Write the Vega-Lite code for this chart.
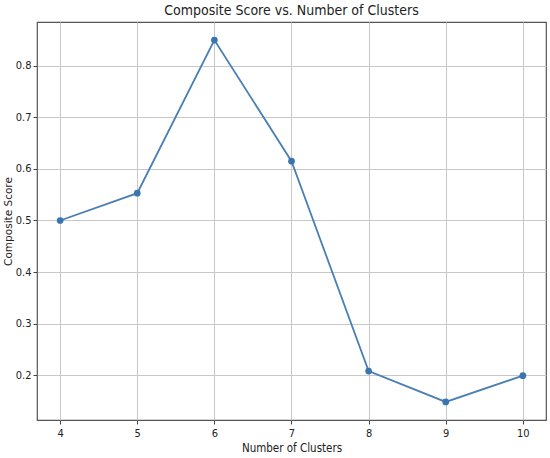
{
  "$schema": "https://vega.github.io/schema/vega-lite/v6.json",
  "autosize": {"type": "none"},
  "width": 509,
  "height": 398,
  "padding": {"left": 37, "top": 22, "right": 4, "bottom": 38},
  "title": {"text": "Composite Score vs. Number of Clusters", "font": "DejaVu Sans Condensed", "fontSize": 14, "fontWeight": "normal", "color": "#222222", "offset": 4, "anchor": "middle"},
  "config": {
    "view": {"stroke": "#555555", "strokeWidth": 1.2},
    "axis": {"labelFont": "DejaVu Sans Condensed", "labelFontSize": 11, "labelColor": "#222222", "titleFont": "DejaVu Sans Condensed", "titleFontSize": 11, "titleFontWeight": "normal", "titleColor": "#222222", "gridColor": "#c8c8c8", "gridWidth": 1, "domain": false, "tickColor": "#444444", "tickSize": 4, "labelPadding": 3}
  },
  "data": {"values": [
    {"k": 4, "score": 0.500},
    {"k": 5, "score": 0.553},
    {"k": 6, "score": 0.850},
    {"k": 7, "score": 0.615},
    {"k": 8, "score": 0.208},
    {"k": 9, "score": 0.148},
    {"k": 10, "score": 0.199}
  ]},
  "encoding": {
    "x": {"field": "k", "type": "quantitative", "title": "Number of Clusters", "scale": {"domain": [3.7, 10.3], "nice": false, "zero": false}, "axis": {"values": [4, 5, 6, 7, 8, 9, 10], "format": "d", "titlePadding": 4, "titleFontSize": 11.5}},
    "y": {"field": "score", "type": "quantitative", "title": "Composite Score", "scale": {"domain": [0.113, 0.885], "nice": false, "zero": false}, "axis": {"values": [0.2, 0.3, 0.4, 0.5, 0.6, 0.7, 0.8], "format": ".1f", "titleFont": "DejaVu Sans", "titleFontSize": 10.5, "titlePadding": 2, "labelPadding": 2}}
  },
  "layer": [
    {"mark": {"type": "line", "color": "#4a7fb5", "strokeWidth": 1.8}},
    {"mark": {"type": "point", "filled": true, "color": "#3b75ae", "size": 45, "opacity": 1}}
  ]
}
